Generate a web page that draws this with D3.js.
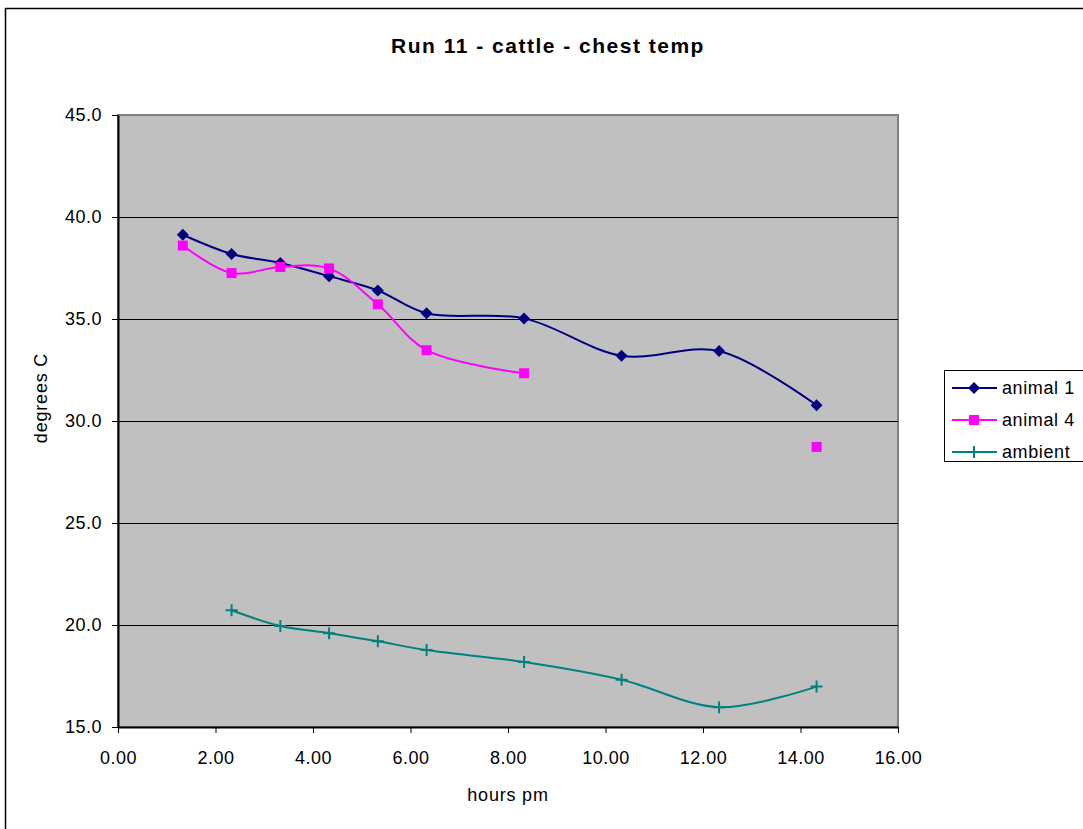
<!DOCTYPE html>
<html><head><meta charset="utf-8">
<script src="https://cdn.jsdelivr.net/npm/d3@7"></script>
<style>body{margin:0;background:#fff;} svg{display:block;font-family:"Liberation Sans",Arial,sans-serif;}</style>
</head><body>
<script>
const hours = [1.33, 2.33, 3.33, 4.33, 5.33, 6.33, 8.33, 10.33, 12.33, 14.33];
const animal1 = [39.13, 38.19, 37.75, 37.1, 36.4, 35.28, 35.03, 33.2, 33.43, 30.77];
const animal4 = [38.6, 37.25, 37.55, 37.48, 35.72, 33.47, 32.34, null, null, 28.73];
const ambient = [null, 20.72, 19.95, 19.6, 19.2, 18.77, 18.19, 17.32, 15.97, 16.98];
const seriesNames = ["animal 1", "animal 4", "ambient"];
const xTicks = [0, 2, 4, 6, 8, 10, 12, 14, 16];
const yTicks = [15, 20, 25, 30, 35, 40, 45];

const W = 1083, H = 829;
const m = {l: 118, t: 115, r: 898, b: 727};
const FONT = "Liberation Sans, Arial, sans-serif";
const svg = d3.select("body").append("svg").attr("width", W).attr("height", H);

// outer chart border
svg.append("rect").attr("x", 5.5).attr("y", 8.5).attr("width", W + 10).attr("height", H + 10)
  .attr("fill", "#fff").attr("stroke", "#000").attr("stroke-width", 1.5);

const x = d3.scaleLinear().domain([0, 16]).range([m.l, m.r]);
const y = d3.scaleLinear().domain([15, 45]).range([m.b, m.t]);

// plot area
svg.append("rect").attr("x", m.l).attr("y", m.t).attr("width", m.r - m.l).attr("height", m.b - m.t)
  .attr("fill", "#c0c0c0").attr("stroke", "#808080").attr("stroke-width", 2);

// gridlines
svg.append("g").selectAll("line").data(yTicks.filter(v => v > 15 && v < 45)).join("line")
  .attr("x1", m.l).attr("x2", m.r).attr("y1", d => Math.round(y(d)) + 0.5).attr("y2", d => Math.round(y(d)) + 0.5)
  .attr("stroke", "#000").attr("stroke-width", 1);

// axes
const yAxis = d3.axisLeft(y).tickValues(yTicks).tickFormat(d3.format(".1f")).tickSizeInner(6).tickSizeOuter(0).tickPadding(10);
const gy = svg.append("g").attr("transform", `translate(${m.l},0)`).call(yAxis);
const xAxis = d3.axisBottom(x).tickValues(xTicks).tickFormat(d3.format(".2f")).tickSizeInner(6).tickSizeOuter(0).tickPadding(18);
const gx = svg.append("g").attr("transform", `translate(0,${m.b})`).call(xAxis);
[gx, gy].forEach(g => {
  g.attr("font-size", null).attr("font-family", null);
  g.select(".domain").attr("stroke", "#000").attr("stroke-width", 2);
  g.selectAll(".tick line").attr("stroke", "#000").attr("stroke-width", 1);
  g.selectAll(".tick text").attr("fill", "#000").style("font-size", "18px").style("letter-spacing", "0.5px").style("font-family", FONT);
});

// titles
svg.append("text").attr("x", 548).attr("y", 53).attr("text-anchor", "middle")
  .style("font-size", "21px").style("font-weight", "bold").style("letter-spacing", "1.5px").text("Run 11 - cattle - chest temp");
svg.append("text").attr("x", (m.l + m.r) / 2).attr("y", 801).attr("text-anchor", "middle")
  .style("font-size", "18px").style("letter-spacing", "0.8px").text("hours pm");
svg.append("text").attr("transform", `translate(47,398) rotate(-90)`).attr("text-anchor", "middle")
  .style("font-size", "18px").style("letter-spacing", "0.8px").text("degrees C");

const colors = ["#000080", "#ff00ff", "#008080"];
const data = [animal1, animal4, ambient].map(arr => hours.map((h, i) => ({x: h, y: arr[i]})));

const line = d3.line().defined(d => d.y != null).x(d => x(d.x)).y(d => y(d.y)).curve(d3.curveCatmullRom.alpha(0.5));

const clip = svg.append("defs").append("clipPath").attr("id", "clip");
clip.append("rect").attr("x", m.l).attr("y", m.t).attr("width", m.r - m.l).attr("height", m.b - m.t);

function marker(g, type, cx, cy, color) {
  if (type === 0) {
    const s = 6;
    g.append("path").attr("d", `M${cx},${cy - s}L${cx + s},${cy}L${cx},${cy + s}L${cx - s},${cy}Z`).attr("fill", color);
  } else if (type === 1) {
    const s = 5;
    g.append("rect").attr("x", cx - s).attr("y", cy - s).attr("width", 2 * s).attr("height", 2 * s).attr("fill", color);
  } else {
    const s = 6;
    g.append("path").attr("d", `M${cx - s},${cy}H${cx + s}M${cx},${cy - s}V${cy + s}`).attr("stroke", color).attr("stroke-width", 2).attr("fill", "none");
  }
}

data.forEach((pts, si) => {
  svg.append("path").datum(pts).attr("d", line).attr("fill", "none")
    .attr("stroke", colors[si]).attr("stroke-width", 2).attr("clip-path", "url(#clip)");
  const g = svg.append("g");
  pts.filter(d => d.y != null).forEach(d => marker(g, si, x(d.x), y(d.y), colors[si]));
});

// legend
const lg = svg.append("g");
lg.append("rect").attr("x", 944.5).attr("y", 370.5).attr("width", 150).attr("height", 91)
  .attr("fill", "#fff").attr("stroke", "#000").attr("stroke-width", 1);
seriesNames.forEach((name, i) => {
  const ly = 388 + i * 32;
  lg.append("line").attr("x1", 952).attr("x2", 997).attr("y1", ly).attr("y2", ly).attr("stroke", colors[i]).attr("stroke-width", 2);
  marker(lg, i, 974, ly, colors[i]);
  lg.append("text").attr("x", 1002).attr("y", ly + 6).style("font-size", "18px").style("letter-spacing", "0.6px").text(name);
});
</script>
</body></html>
